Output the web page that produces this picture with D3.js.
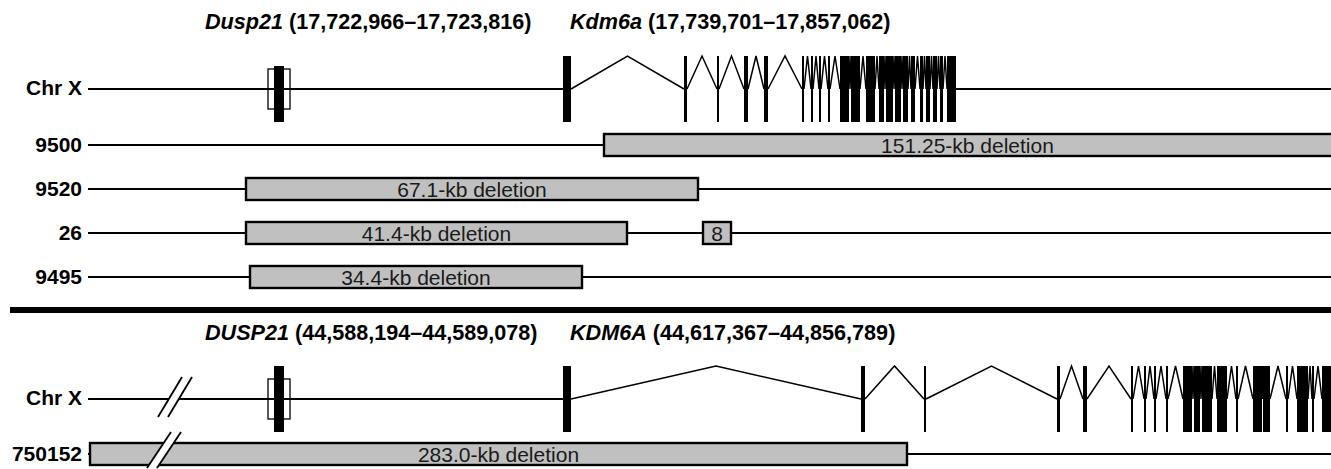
<!DOCTYPE html>
<html><head><meta charset="utf-8">
<script src="https://cdn.jsdelivr.net/npm/d3@7"></script>
<style>
body{margin:0;background:#fff;}
svg{display:block;font-family:"Liberation Sans",Arial,Helvetica,sans-serif;}
</style>
</head><body>
<svg id="chart" width="1331" height="469"></svg>
<script>
// ---------- DATA (schematic positions along the chromosome, arbitrary units) ----------
const topTitles = [
  {gene:"Dusp21", coords:" (17,722,966\u201317,723,816)", pos:117},
  {gene:"Kdm6a",  coords:" (17,739,701\u201317,857,062)", pos:482}
];
const bottomTitles = [
  {gene:"DUSP21", coords:" (44,588,194\u201344,589,078)", pos:117},
  {gene:"KDM6A",  coords:" (44,617,367\u201344,856,789)", pos:482}
];
const dusp21Exon = [186, 196];
const dusp21Box  = [180, 202];
const kdm6aExonsMouse = [
  [475,483],[596,599],[629,631],[656,660],[676,680],
  [714,716],[723,725],[731,733],[740,742],
  [752,761],[763,772],[778,787],[791,796],[798,805],[807,813],[815,820],
  [823,827],[832,835],[838,842],[845,849],[852,855],[859,868]
];
const kdm6aExonsHuman = [
  [475,483],[773,777],[836,838],[969,972],[995,999],
  [1043,1045],[1056,1058],[1066,1068],[1078,1080],
  [1095,1104],[1106,1112],[1114,1124],[1129,1139],[1148,1150],
  [1165,1174],[1175,1182],[1198,1200],[1209,1220],[1224,1226],[1234,1255]
];
const mouseRows = ["9500","9520","26","9495"];
const mouseDeletions = [
  {row:"9500", start:516, end:1250, label:"151.25-kb deletion"},
  {row:"9520", start:158, end:610,  label:"67.1-kb deletion"},
  {row:"26",   start:158, end:539,  label:"41.4-kb deletion"},
  {row:"26",   start:615, end:643,  label:"8"},
  {row:"9495", start:162, end:494,  label:"34.4-kb deletion"}
];
const humanRows = ["750152"];
const humanDeletions = [
  {row:"750152", start:2, end:819, label:"283.0-kb deletion"}
];
const geneRowLabel = "Chr X";

// ---------- LAYOUT ----------
const W = 1331, H = 469;
const svg = d3.select("#chart");
const x = d3.scaleLinear().domain([0, 1243]).range([88, 1331]);
const labelX = 82;
const FS = 21;

function title(t, y){
  const tx = svg.append("text").attr("x", x(t.pos)).attr("y", y)
    .attr("font-size", 21.6).attr("font-weight", "bold").attr("fill", "#000");
  tx.append("tspan").attr("font-style", "italic").text(t.gene);
  tx.append("tspan").text(t.coords);
}

function label(txt, y){
  svg.append("text").attr("x", labelX).attr("y", y).attr("dy", "0.35em")
    .attr("text-anchor", "end").attr("font-size", FS).attr("font-weight", "bold")
    .attr("fill", "#000").text(txt);
}

function geneRow(yc, exons, up, down, dUp, dDown, lineEnd){
  const g = svg.append("g");
  g.append("line").attr("x1", x(0)).attr("x2", x(exons[0][0])).attr("y1", yc).attr("y2", yc)
    .attr("stroke", "#000").attr("stroke-width", 2);
  const last = exons[exons.length-1][1];
  if (last < x.domain()[1]) {
    g.append("line").attr("x1", x(last)).attr("x2", x(lineEnd)).attr("y1", yc).attr("y2", yc)
      .attr("stroke", "#000").attr("stroke-width", 2);
  }
  g.append("rect").attr("x", x(dusp21Box[0])).attr("width", x(dusp21Box[1]) - x(dusp21Box[0]))
    .attr("y", yc - 20).attr("height", 40).attr("fill", "none").attr("stroke", "#000").attr("stroke-width", 1.3);
  g.append("rect").attr("x", x(dusp21Exon[0])).attr("width", x(dusp21Exon[1]) - x(dusp21Exon[0]))
    .attr("y", yc - dUp).attr("height", dUp + dDown).attr("fill", "#000");
  const introns = d3.pairs(exons).map(([a, b]) => [a[1], b[0]]);
  g.selectAll("path.intron").data(introns).join("path").attr("class", "intron")
    .attr("d", d => { const m = (d[0] + d[1]) / 2;
      return `M${x(d[0])},${yc}L${x(m)},${yc - up}L${x(d[1])},${yc}`; })
    .attr("fill", "none").attr("stroke", "#000").attr("stroke-width", 1.5);
  g.selectAll("rect.exon").data(exons).join("rect").attr("class", "exon")
    .attr("x", d => x(d[0])).attr("width", d => Math.max(1.6, x(d[1]) - x(d[0])))
    .attr("y", yc - up).attr("height", up + down).attr("fill", "#000");
}

function deletionRows(rows, dels, y){
  rows.forEach(r => {
    svg.append("line").attr("x1", x(0)).attr("x2", x(x.domain()[1]) + 5)
      .attr("y1", y(r)).attr("y2", y(r)).attr("stroke", "#000").attr("stroke-width", 2);
  });
  const g = svg.append("g").selectAll("g").data(dels).join("g");
  g.append("rect").attr("x", d => x(d.start)).attr("width", d => x(d.end) - x(d.start))
    .attr("y", d => y(d.row) - 11).attr("height", 22)
    .attr("fill", "#c0c0c0").attr("stroke", "#000").attr("stroke-width", 2.4);
  g.append("text")
    .attr("x", d => (x(d.start) + Math.min(x(d.end), W)) / 2)
    .attr("y", d => y(d.row)).attr("dy", "0.36em").attr("text-anchor", "middle")
    .attr("font-size", FS).attr("fill", "#1a1a1a").text(d => d.label);
}

function breakMark(cx, cy, halfH, slant, gap){
  const pts = [[cx - slant, cy + halfH], [cx + slant, cy - halfH]];
  svg.append("polygon")
    .attr("points", [[pts[0][0], pts[0][1]], [pts[1][0], pts[1][1]], [pts[1][0] + gap, pts[1][1]], [pts[0][0] + gap, pts[0][1]]].map(p => p.join(",")).join(" "))
    .attr("fill", "#fff");
  [0, gap].forEach(o => {
    svg.append("line").attr("x1", pts[0][0] + o).attr("y1", pts[0][1])
      .attr("x2", pts[1][0] + o).attr("y2", pts[1][1]).attr("stroke", "#000").attr("stroke-width", 1.8);
  });
}

// ---------- TOP PANEL (mouse) ----------
title(topTitles[0], 29); title(topTitles[1], 29);
label(geneRowLabel, 88);
geneRow(89, kdm6aExonsMouse, 33, 33, 23, 33, 1243);
const yTop = d3.scalePoint().domain(mouseRows).range([145, 277]);
mouseRows.forEach(r => label(r, yTop(r)));
deletionRows(mouseRows, mouseDeletions, yTop);

// separator
svg.append("rect").attr("x", 10).attr("y", 307).attr("width", W - 10).attr("height", 6).attr("fill", "#000");

// ---------- BOTTOM PANEL (human) ----------
title(bottomTitles[0], 340); title(bottomTitles[1], 340);
label(geneRowLabel, 398);
geneRow(399, kdm6aExonsHuman, 33, 33, 33, 33, 1243);
const yBot = d3.scalePoint().domain(humanRows).range([454, 454]);
label(humanRows[0], yBot(humanRows[0]));
deletionRows(humanRows, humanDeletions, yBot);
breakMark(x(82), 397, 20, 12, 10);
breakMark(x(71), 450, 18, 12, 10);
</script>
</body></html>
